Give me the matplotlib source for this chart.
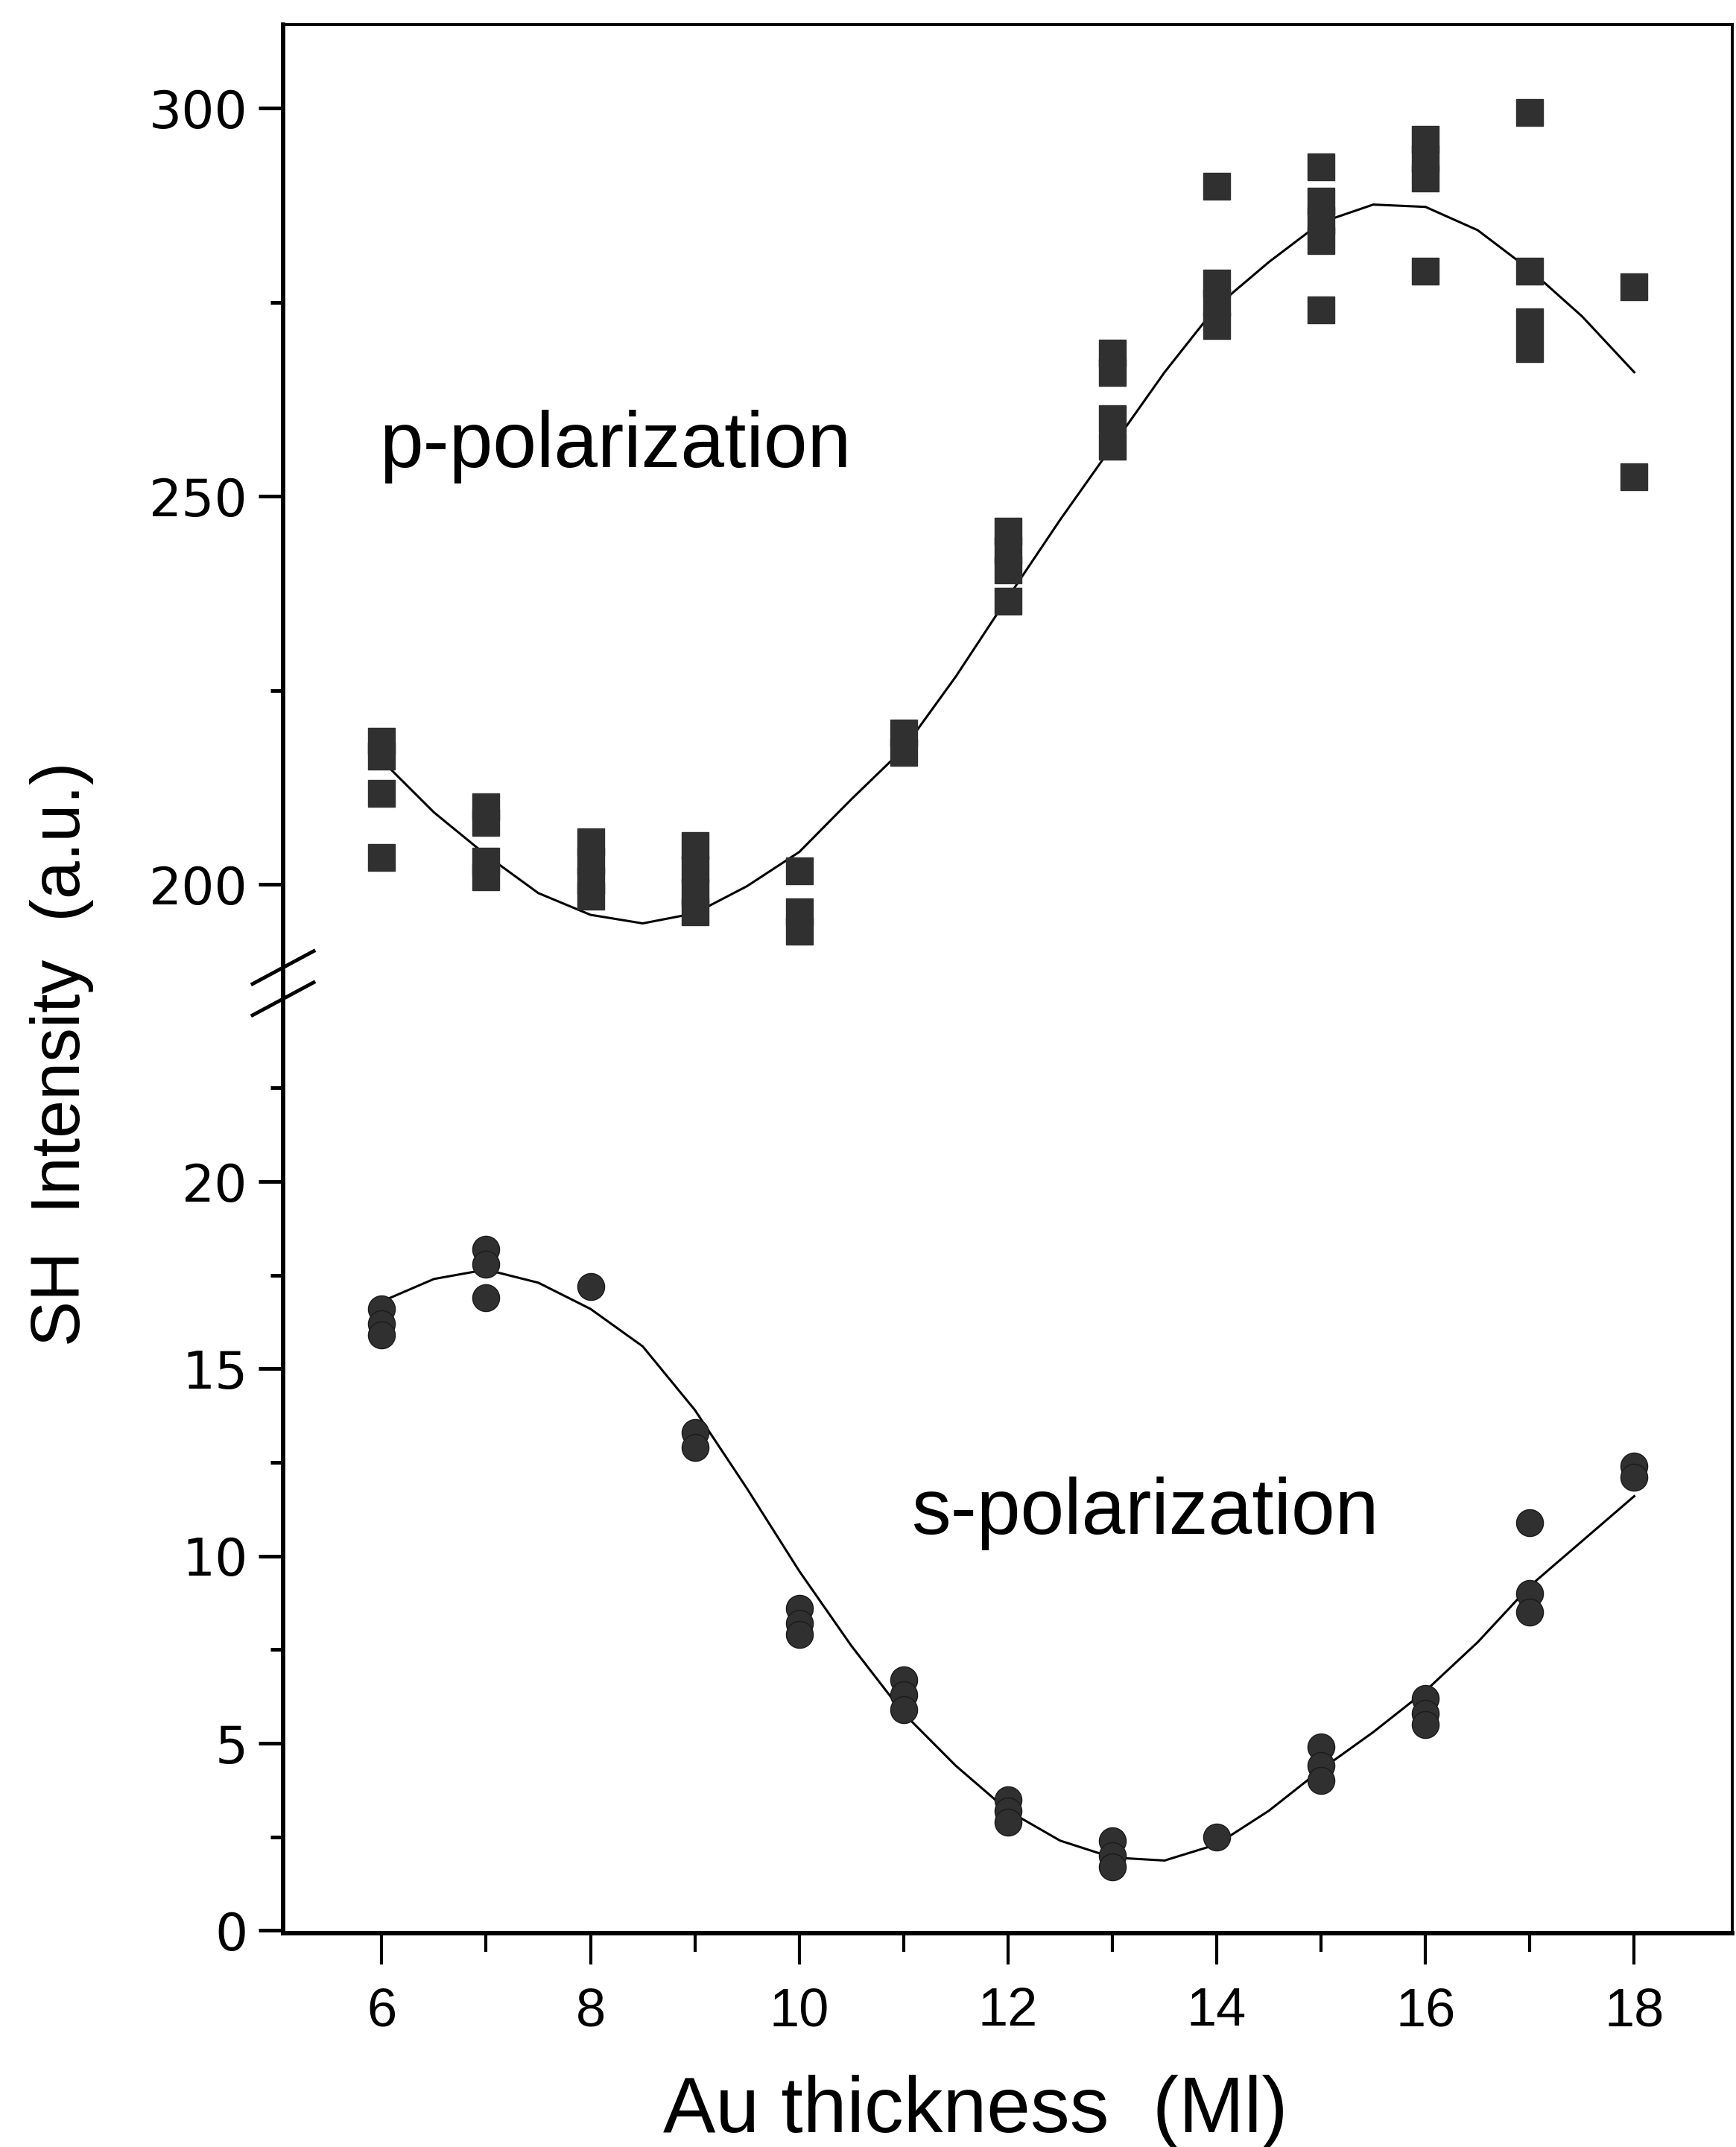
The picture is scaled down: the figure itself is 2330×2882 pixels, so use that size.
import numpy as np
import matplotlib
matplotlib.use("Agg")
import matplotlib.pyplot as plt

# data
x_p = [6, 6, 6, 6, 7, 7, 7, 7, 8, 8, 8, 8, 9, 9, 9, 9, 10, 10, 10, 11, 11,
       12, 12, 12, 12, 13, 13, 13, 13, 14, 14, 14, 14, 15, 15, 15, 15, 15,
       16, 16, 16, 16, 17, 17, 17, 17, 18, 18]
y_p = [218.5, 216.5, 211.7, 203.5, 210.0, 208.0, 203.0, 201.0, 205.5, 203.0, 200.5, 198.5,
       205.0, 202.0, 199.0, 196.5, 201.8, 196.5, 194.0, 219.5, 217.0,
       245.5, 243.0, 240.5, 236.5, 268.5, 266.0, 260.0, 256.5, 290.0, 277.5, 275.0, 272.0,
       292.5, 288.0, 285.5, 283.0, 274.0, 296.0, 293.5, 291.0, 279.0,
       299.5, 279.0, 272.5, 269.0, 277.0, 252.5]

x_s = [6, 6, 6, 7, 7, 7, 8, 9, 9, 10, 10, 10, 11, 11, 11, 12, 12, 12, 13, 13, 13,
       14, 15, 15, 15, 16, 16, 16, 17, 17, 17, 18, 18]
y_s = [16.6, 16.2, 15.9, 18.2, 17.8, 16.9, 17.2, 13.3, 12.9, 8.6, 8.2, 7.9, 6.7, 6.3, 5.9,
       3.5, 3.2, 2.9, 2.4, 2.0, 1.7, 2.5, 4.9, 4.4, 4.0, 6.2, 5.8, 5.5, 10.9, 9.0, 8.5,
       12.4, 12.1]

# fitted curves, read at half steps
x_fit = [6, 6.5, 7, 7.5, 8, 8.5, 9, 9.5, 10, 10.5, 11, 11.5, 12, 12.5, 13, 13.5,
         14, 14.5, 15, 15.5, 16, 16.5, 17, 17.5, 18]
p_fit = [216.0, 209.3, 203.8, 198.9, 196.1, 195.0, 196.3, 199.8, 204.2, 211.0, 217.5,
         226.8, 237.0, 247.0, 256.5, 266.0, 274.5, 280.2, 285.3, 287.6, 287.3, 284.3,
         279.2, 273.2, 266.0]
s_fit = [16.8, 17.4, 17.65, 17.3, 16.6, 15.6, 13.9, 11.8, 9.6, 7.6, 5.8, 4.4, 3.2, 2.4,
         1.95, 1.87, 2.3, 3.2, 4.3, 5.3, 6.4, 7.7, 9.2, 10.4, 11.6]

major_y = [0, 5, 10, 15, 20, 200, 250, 300]
minor_y = [2.5, 7.5, 12.5, 17.5, 22.5, 225, 275]

# broken y axis: lower part 0..25.3, upper part 187.3..
lo_break, hi_break, ratio = 25.3, 187.3, 0.2073
xp_f = [-1000.0, lo_break, hi_break, 10000.0]
fp_f = [-1000.0, lo_break, lo_break + 1e-4, lo_break + 1e-4 + (10000.0 - hi_break) * ratio]


def fwd(v):
    return np.interp(v, xp_f, fp_f)


def inv(u):
    return np.interp(u, fp_f, xp_f)


plt.rcParams['font.family'] = ['Liberation Sans', 'DejaVu Sans']

fig = plt.figure(figsize=(23.3, 28.82), dpi=100)
ax = fig.add_axes([0.1631, 0.0996, 0.8348, 0.8890])
ax.set_yscale('function', functions=(fwd, inv))
ax.set_xlim(5.055, 18.94)
ax.set_ylim(-0.07, 310.8)

ax.plot(x_fit, p_fit, color='black', lw=2.2, zorder=2)
ax.plot(x_fit, s_fit, color='black', lw=2.2, zorder=2)
ax.plot(x_p, y_p, ls='none', marker='s', ms=26, mfc='#303030', mec='#303030', mew=1.0, zorder=3)
ax.plot(x_s, y_s, ls='none', marker='o', ms=26, mfc='#303030', mec='#1a1a1a', mew=1.0, zorder=3)

ax.text(5.98, 253.8, 'p-polarization', fontsize=76, va='baseline', ha='left')
ax.text(11.07, 10.6, 's-polarization', fontsize=76, va='baseline', ha='left')

ax.set_yticks(major_y)
ax.set_yticks(minor_y, minor=True)
ax.set_yticklabels([str(v) for v in major_y], family='DejaVu Sans', fontsize=50)
ax.set_xticks([6, 8, 10, 12, 14, 16, 18])
ax.set_xticks([7, 9, 11, 13, 15, 17], minor=True)
ax.set_xticklabels(['6', '8', '10', '12', '14', '16', '18'], fontsize=52)

ax.tick_params(axis='y', which='major', direction='out', length=24, width=3.5, pad=10)
ax.tick_params(axis='y', which='minor', direction='out', length=12, width=3.5)
ax.tick_params(axis='x', which='major', direction='out', length=30, width=3, pad=22)
ax.tick_params(axis='x', which='minor', direction='out', length=18, width=3)

for side in ['left', 'bottom']:
    ax.spines[side].set_linewidth(4.2)
for side in ['top', 'right']:
    ax.spines[side].set_linewidth(2.8)

# break marks on the y axis
u0, u1 = fwd(-0.07), fwd(310.8)
yb = (fwd(lo_break) - u0) / (u1 - u0)
dx, dy, off = 0.0211, 0.0086, 0.0082
for c in (yb + off, yb - off):
    ax.plot([-dx, dx], [c - dy, c + dy], transform=ax.transAxes, color='black',
            lw=3.5, clip_on=False, zorder=5)

fig.text(1309 / 2330, 1 - 2835 / 2882, 'Au thickness  (Ml)', fontsize=76,
         ha='center', va='center')
fig.text(83 / 2330, 1 - 1415 / 2882, 'SH  Intensity  (a.u.)', fontsize=66,
         ha='center', va='center', rotation=90)

fig.savefig('out.png', dpi=100)
